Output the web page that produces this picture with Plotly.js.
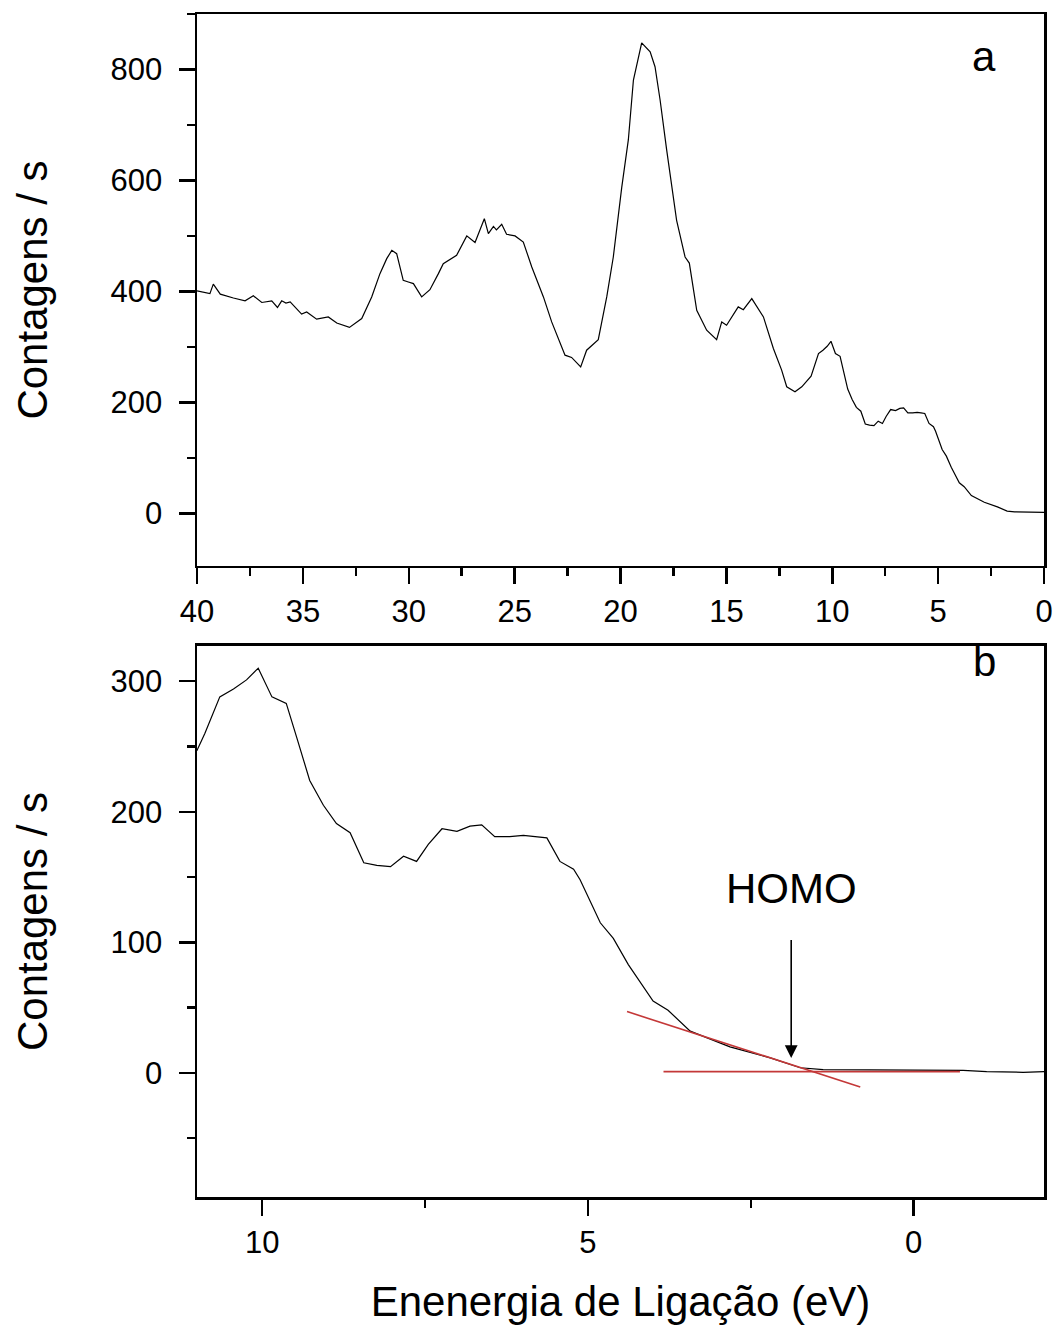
<!DOCTYPE html>
<html>
<head>
<meta charset="utf-8">
<script src="https://cdn.plot.ly/plotly-3.0.1.min.js"></script>
<style>
  html, body { margin: 0; padding: 0; background: #ffffff; }
  #chart { width: 1059px; height: 1332px; }
</style>
</head>
<body>
<div id="chart"></div>
<script>
// Binding energy (eV) and counts per second
const energy = [
  40.0, 39.39, 39.23, 38.9, 38.28, 37.73, 37.34, 36.94, 36.47, 36.2, 36.0, 35.8, 35.6,
  35.06, 34.82, 34.35, 33.8, 33.4, 32.8, 32.22, 31.75, 31.36, 31.04, 30.8, 30.57,
  30.26, 30.02, 29.78, 29.39, 29.0, 28.6, 28.37, 27.74, 27.26, 26.87, 26.43, 26.24,
  26.0, 25.86, 25.61, 25.38, 24.98, 24.59, 24.19, 23.64, 23.25, 22.62, 22.31, 21.88,
  21.6, 21.05, 20.65, 20.34, 19.94, 19.63, 19.39, 19.0, 18.6, 18.37, 18.13, 17.82,
  17.35, 16.95, 16.75, 16.4, 15.93, 15.46, 15.22, 14.99, 14.44, 14.2, 13.8, 13.25,
  12.78, 12.39, 12.15, 11.76, 11.44,
  11.0, 10.88, 10.65, 10.44, 10.24, 10.06, 9.85, 9.63, 9.47, 9.27, 9.06, 8.86, 8.65,
  8.44, 8.24, 8.03, 7.83, 7.63, 7.45, 7.24, 7.01, 6.81, 6.63, 6.43, 6.2, 5.99, 5.81,
  5.63, 5.43, 5.22, 5.12, 4.92, 4.81, 4.61, 4.38, 4.0, 3.77, 3.43, 2.82, 2.2, 1.74,
  1.39, 0.62, -0.4, -0.76, -1.12, -1.68, -2.0
];
const counts = [
  401, 396, 413, 395, 388, 383, 392, 380, 383, 371, 383, 379, 381,
  359, 363, 350, 354, 343, 335, 351, 390, 432, 459, 474, 468,
  420, 417, 414, 390, 403, 432, 450, 465, 500, 488, 531, 504,
  517, 511, 521, 503, 500, 489, 444, 390, 345, 285, 281, 264,
  294, 313, 390, 462, 588, 673, 781, 848, 832, 805, 745, 655,
  528, 462, 451, 366, 330, 313, 345, 339, 372, 367, 387, 354,
  297, 258, 228, 219, 228,
  247, 260, 288, 294, 301, 310, 288, 283, 257, 224, 205, 191, 184,
  161, 159, 158, 166, 162, 175, 187, 185, 189, 190, 181, 181, 182, 181,
  180, 162, 156, 148, 127, 115, 103, 83, 55, 48, 32, 20, 11.5, 4,
  2.5, 2.5, 2, 2, 1, 0.5, 1
];

// Red construction lines for the HOMO onset (panel b)
const tangentX = [4.40, 0.82];
const tangentY = [47, -10.7];
const baseX = [3.84, -0.71];
const baseY = [1, 1];

// Tick values
const topXTicks = [40, 35, 30, 25, 20, 15, 10, 5, 0];
const topYTicks = [0, 200, 400, 600, 800];
const botXTicks = [10, 5, 0];
const botYTicks = [0, 100, 200, 300];

// HOMO arrow (binding energy, start count, tip count)
const homoX = 1.88;
const homoStart = 103;
const homoTip = 11.5;

const FONT = '"Liberation Sans", Arial, sans-serif';

const traces = [
  { x: energy, y: counts, xaxis: 'x', yaxis: 'y', type: 'scatter', mode: 'lines',
    line: { color: '#000000', width: 1.2 }, hoverinfo: 'skip' },
  { x: energy, y: counts, xaxis: 'x2', yaxis: 'y2', type: 'scatter', mode: 'lines',
    line: { color: '#000000', width: 1.2 }, hoverinfo: 'skip' },
  { x: tangentX, y: tangentY, xaxis: 'x2', yaxis: 'y2', type: 'scatter', mode: 'lines',
    line: { color: 'rgb(196,56,56)', width: 1.6 }, hoverinfo: 'skip' },
  { x: baseX, y: baseY, xaxis: 'x2', yaxis: 'y2', type: 'scatter', mode: 'lines',
    line: { color: 'rgb(196,56,56)', width: 1.6 }, hoverinfo: 'skip' }
];

const axisCommon = {
  showline: true, linecolor: '#000000', linewidth: 2.5, mirror: true,
  ticks: 'outside', ticklen: 16, tickwidth: 2.5, tickcolor: '#000000',
  showgrid: false, zeroline: false,
  tickfont: { family: FONT, size: 31, color: '#000000' }
};

const layout = {
  width: 1059, height: 1332,
  margin: { l: 197, r: 15, t: 14, b: 135 },
  paper_bgcolor: '#ffffff', plot_bgcolor: '#ffffff',
  showlegend: false,
  font: { family: FONT, color: '#000000' },
  xaxis: Object.assign({}, axisCommon, {
    anchor: 'y', domain: [0, 1], range: [40, 0], tickmode: 'array', tickvals: topXTicks,
    minor: { dtick: 2.5, tick0: 0, ticklen: 8, tickwidth: 2.5, tickcolor: '#000000', ticks: 'outside' }
  }),
  yaxis: Object.assign({}, axisCommon, {
    anchor: 'x', domain: [0.5334, 1], range: [-95, 900], tickmode: 'array', tickvals: topYTicks,
    ticklabelstandoff: 10,
    minor: { dtick: 100, tick0: 0, ticklen: 8, tickwidth: 2.5, tickcolor: '#000000', ticks: 'outside' },
    title: { text: 'Contagens / s', font: { family: FONT, size: 42, color: '#000000' }, standoff: 50 }
  }),
  xaxis2: Object.assign({}, axisCommon, {
    anchor: 'y2', domain: [0, 1], range: [11, -2], tickmode: 'array', tickvals: botXTicks,
    minor: { dtick: 2.5, tick0: 0, ticklen: 8, tickwidth: 2.5, tickcolor: '#000000', ticks: 'outside' },
    title: { text: 'Enenergia de Ligação (eV)', font: { family: FONT, size: 42, color: '#000000' }, standoff: 28 }
  }),
  yaxis2: Object.assign({}, axisCommon, {
    anchor: 'x2', domain: [0, 0.4658], range: [-95, 327], tickmode: 'array', tickvals: botYTicks,
    ticklabelstandoff: 10,
    minor: { dtick: 50, tick0: 0, ticklen: 8, tickwidth: 2.5, tickcolor: '#000000', ticks: 'outside' },
    title: { text: 'Contagens / s', font: { family: FONT, size: 42, color: '#000000' }, standoff: 50 }
  }),
  annotations: [
    { text: 'a', xref: 'x domain', yref: 'y domain', x: 0.946, y: 0.97,
      showarrow: false, font: { family: FONT, size: 42, color: '#000000' } },
    { text: 'b', xref: 'x2 domain', yref: 'y2 domain', x: 0.946, y: 1.018,
      showarrow: false, font: { family: FONT, size: 42, color: '#000000' } },
    { text: 'HOMO', xref: 'x2', yref: 'y2', x: homoX, y: 141,
      showarrow: false, font: { family: FONT, size: 42, color: '#000000' } },
    { text: '', xref: 'x2', yref: 'y2', x: homoX, y: homoTip,
      axref: 'x2', ayref: 'y2', ax: homoX, ay: homoStart,
      showarrow: true, arrowhead: 2, arrowsize: 1.6, arrowwidth: 1.6, arrowcolor: '#000000' }
  ]
};

Plotly.newPlot('chart', traces, layout, { displayModeBar: false, staticPlot: true });
</script>
</body>
</html>
